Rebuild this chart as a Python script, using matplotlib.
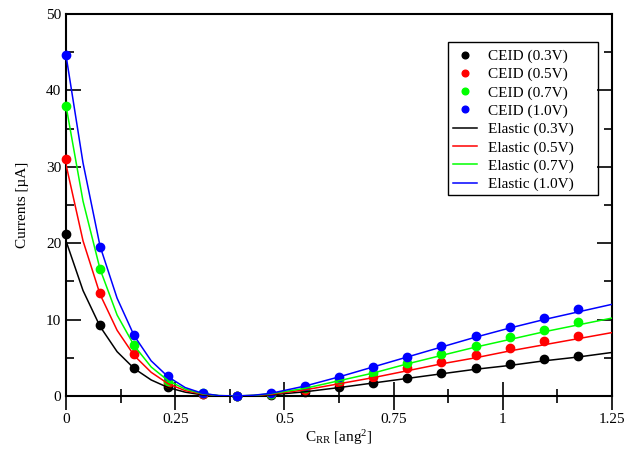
import matplotlib
matplotlib.use("Agg")
import matplotlib.pyplot as plt
from matplotlib.ticker import MultipleLocator, FixedLocator
from matplotlib.patches import Rectangle

plt.rcParams['font.family'] = ['Liberation Serif', 'DejaVu Serif']
plt.rcParams['mathtext.fontset'] = 'custom'
plt.rcParams['mathtext.rm'] = 'Liberation Serif'
plt.rcParams['mathtext.it'] = 'Liberation Serif'

# CEID points
x_pts = [0.0, 0.078125, 0.15625, 0.234375, 0.3125, 0.390625, 0.46875, 0.546875,
         0.625, 0.703125, 0.78125, 0.859375, 0.9375, 1.015625, 1.09375, 1.171875]
ceid_03 = [21.2, 9.3, 3.7, 1.15, 0.2, 0.0, 0.1, 0.5, 1.2, 1.75, 2.4, 3.0, 3.6, 4.2, 4.8, 5.3]
ceid_05 = [31.0, 13.5, 5.5, 1.7, 0.3, 0.0, 0.2, 0.8, 1.7, 2.5, 3.6, 4.5, 5.4, 6.3, 7.15, 7.9]
ceid_07 = [38.0, 16.6, 6.7, 2.0, 0.4, 0.0, 0.3, 1.0, 2.1, 3.05, 4.3, 5.5, 6.6, 7.7, 8.7, 9.7]
ceid_10 = [44.6, 19.5, 8.0, 2.6, 0.45, 0.0, 0.35, 1.35, 2.5, 3.85, 5.1, 6.5, 7.8, 9.0, 10.25, 11.4]

# Elastic curves
x_line = [0.0, 0.039, 0.078, 0.117, 0.156, 0.195, 0.234, 0.273, 0.3125, 0.35, 0.39, 0.43,
          0.469, 0.547, 0.625, 0.703, 0.781, 0.859, 0.9375, 1.016, 1.094, 1.172, 1.25]
elas_03 = [20.3, 13.8, 9.1, 5.8, 3.6, 2.1, 1.1, 0.5, 0.15, 0.02, 0.0, 0.04,
           0.15, 0.55, 1.1, 1.7, 2.3, 2.9, 3.5, 4.0, 4.6, 5.1, 5.7]
elas_05 = [30.3, 20.3, 13.3, 8.6, 5.3, 3.1, 1.6, 0.7, 0.25, 0.03, 0.0, 0.06,
           0.22, 0.8, 1.6, 2.4, 3.3, 4.2, 5.0, 5.9, 6.7, 7.5, 8.3]
elas_07 = [38.0, 25.5, 16.6, 10.6, 6.6, 3.8, 2.0, 0.9, 0.3, 0.05, 0.0, 0.08,
           0.3, 1.0, 2.0, 3.0, 4.2, 5.3, 6.4, 7.4, 8.4, 9.3, 10.2]
elas_10 = [44.6, 30.5, 19.6, 12.8, 7.9, 4.6, 2.5, 1.1, 0.35, 0.05, 0.0, 0.1,
           0.35, 1.3, 2.5, 3.8, 5.1, 6.4, 7.7, 8.9, 10.0, 11.0, 12.0]

labels_v = ['0.3V', '0.5V', '0.7V', '1.0V']
colors = ['#000000', '#ff0000', '#00ff00', '#0000ff']

W, H = 638, 451
fig = plt.figure(figsize=(W/100, H/100), dpi=100)
ax = fig.add_axes([66/W, 55/H, (612-66)/W, (396-14)/H])

for ys, c, l in zip([ceid_03, ceid_05, ceid_07, ceid_10], colors, labels_v):
    ax.plot(x_pts, ys, linestyle='none', marker='o', markersize=6, color=c,
            label=f'CEID ({l})', zorder=3, clip_on=False)
for ys, c, l in zip([elas_03, elas_05, elas_07, elas_10], colors, labels_v):
    ax.plot(x_line, ys, color=c, linewidth=1.1, label=f'Elastic ({l})', zorder=4)

ax.set_xlim(0, 1.25)
ax.set_ylim(0, 50)
ax.xaxis.set_major_locator(FixedLocator([0, 0.25, 0.5, 0.75, 1.0, 1.25]))
ax.set_xticklabels(['0', '0.25', '0.5', '0.75', '1', '1.25'])
ax.xaxis.set_minor_locator(MultipleLocator(0.125))
ax.yaxis.set_major_locator(MultipleLocator(10))
ax.yaxis.set_minor_locator(MultipleLocator(5))

ax.tick_params(axis='x', which='major', direction='inout', length=20, width=1.2,
               labelsize=11, top=False, pad=2)
ax.tick_params(axis='x', which='minor', direction='inout', length=10, width=1.2, top=False)
ax.tick_params(axis='y', which='major', direction='in', length=11, width=1.2,
               labelsize=11, left=True, right=True)
ax.tick_params(axis='y', which='minor', direction='in', length=6, width=1.2,
               left=True, right=True)
for s in ax.spines.values():
    s.set_linewidth(1.5)

ax.set_xlabel('C$_{\\mathrm{RR}}$ [ang$^2$]', fontsize=11, labelpad=2)
ax.set_ylabel('Currents [\u00b5A]', fontsize=11, labelpad=12)

# legend (frame drawn separately to match the reference box)
leg = ax.legend(loc='upper left', bbox_to_anchor=(441/W, (H-37)/H),
                bbox_transform=fig.transFigure, fontsize=11, frameon=False,
                handlelength=1.55, handletextpad=0.75, borderpad=0.3,
                labelspacing=0.29, markerscale=0.8)
fig.patches.append(Rectangle((448/W, (H-195)/H), 150/W, 153/H,
                             transform=fig.transFigure, fill=False,
                             edgecolor='black', linewidth=1.0, zorder=5))

fig.savefig('out.png', dpi=100)
